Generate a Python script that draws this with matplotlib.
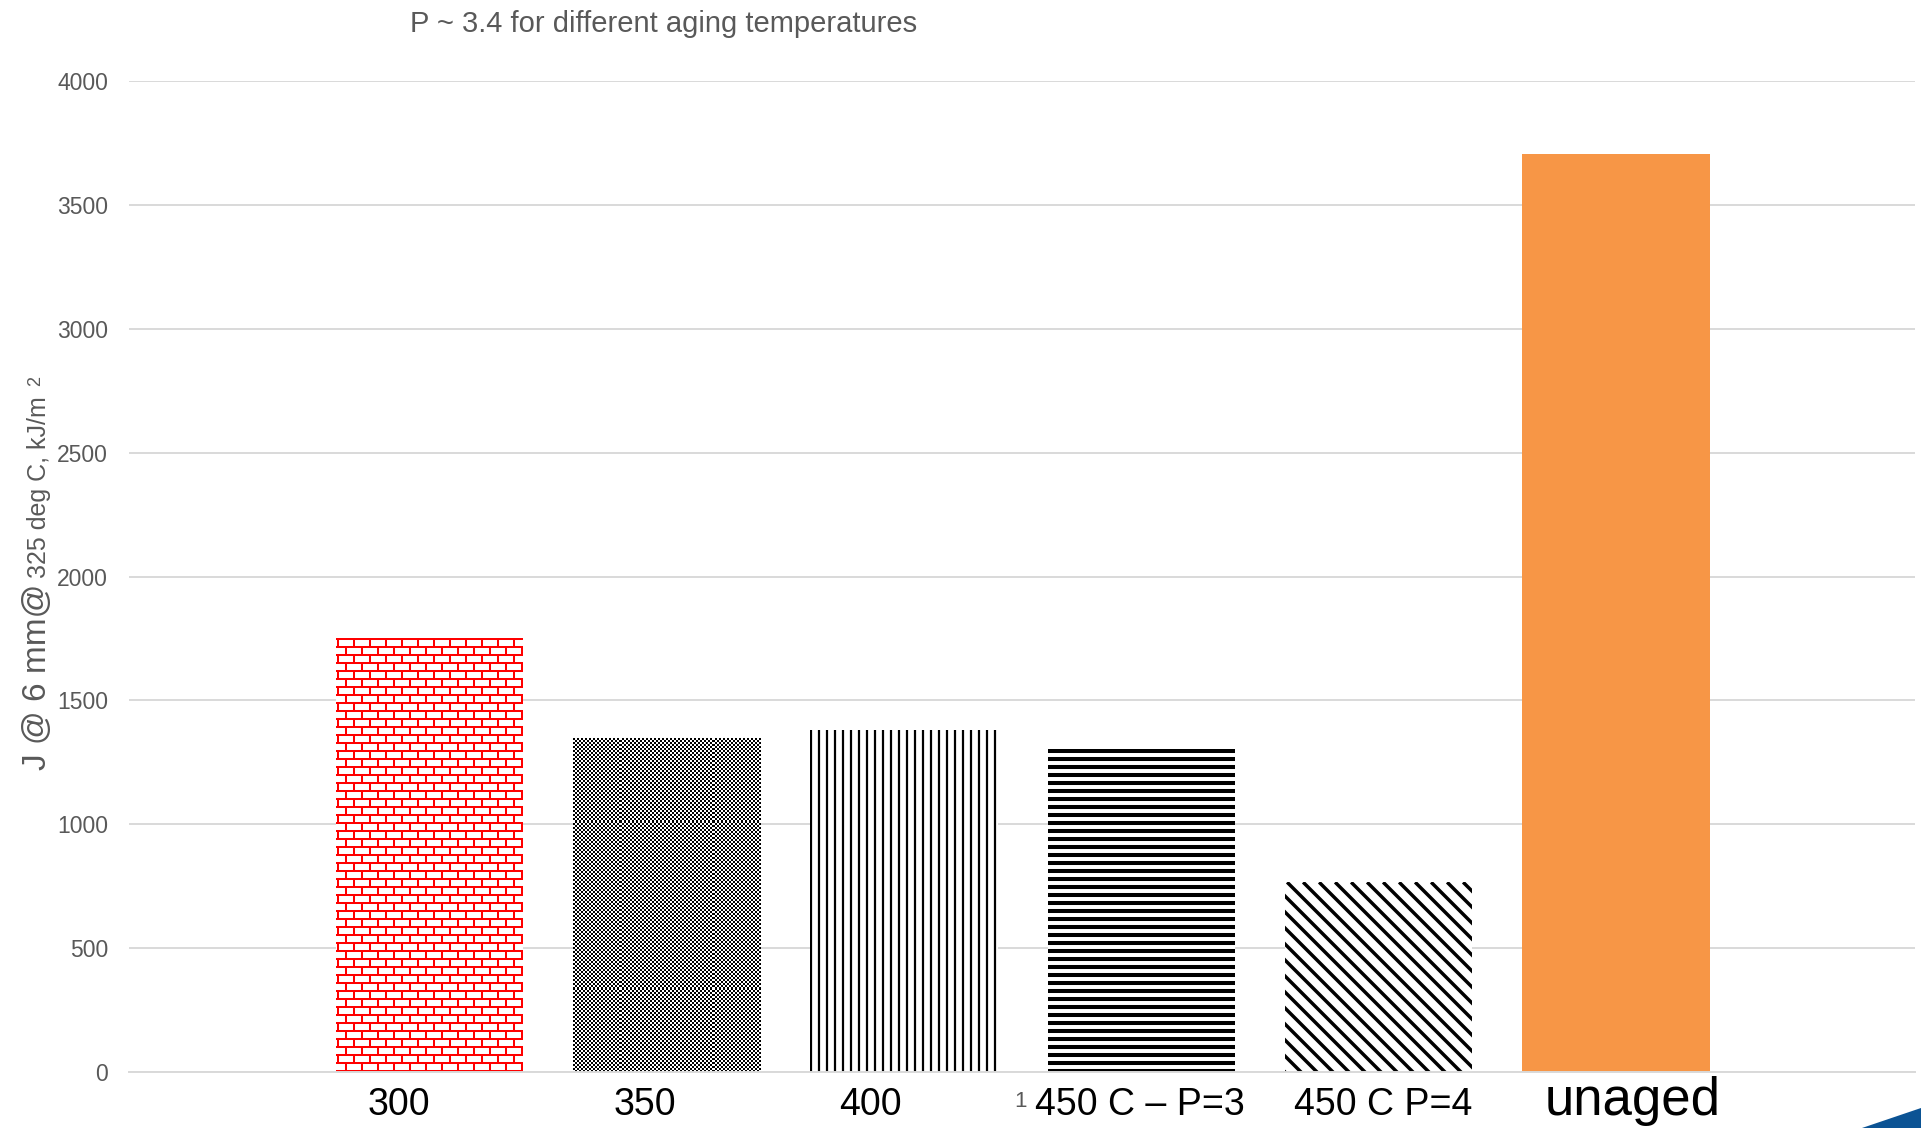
import numpy as np
import matplotlib as mpl
import matplotlib.pyplot as plt
from matplotlib.collections import LineCollection
from matplotlib.patches import Polygon

mpl.rcParams["font.family"] = ["Liberation Sans", "DejaVu Sans"]

# data
categories = ["300", "350", "400", "450 C – P=3", "450 C P=4", "unaged"]
j_values = [1750, 1345, 1380, 1302, 766, 3705]
y_ticks = [0, 500, 1000, 1500, 2000, 2500, 3000, 3500, 4000]

TEXT_GRAY = "#595959"
GRID_GRAY = "#d9d9d9"
ORANGE = "#f79646"

W, H = 1921, 1128
fig = plt.figure(figsize=(W / 100, H / 100), dpi=100)
ax = fig.add_axes([129 / W, 56 / H, (1915 - 129) / W, (1072 - 81) / H])

x = np.arange(1, len(categories) + 1)
faces = ["white"] * 5 + [ORANGE]
bars = ax.bar(x, j_values, width=0.79, color=faces, linewidth=0, zorder=2)

ax.set_xlim(-0.266, 7.26)
ax.set_ylim(0, 4000)
ax.set_yticks(y_ticks)
ax.yaxis.grid(True, color=GRID_GRAY, linewidth=1.4)
ax.set_axisbelow(True)
for s in ax.spines.values():
    s.set_visible(False)
ax.spines["bottom"].set_visible(True)
ax.spines["bottom"].set_color(GRID_GRAY)
ax.spines["bottom"].set_linewidth(1.4)
ax.spines["bottom"].set_zorder(5)

ax.tick_params(axis="y", length=0, pad=15, labelsize=16.5, labelcolor=TEXT_GRAY)
ax.set_xticks(x)
ax.set_xticklabels([])
ax.tick_params(axis="x", length=0)

# category labels sit on a shared baseline, slightly off the bar centres
label_dx = [-22, -16, -24, -1, 3, 12]   # points
label_size = [27, 27, 27, 27, 27, 38]
for xi, name, dx, fs in zip(x, categories, label_dx, label_size):
    ax.annotate(name, xy=(xi, 0), xycoords=("data", "axes fraction"),
                xytext=(dx, -31), textcoords="offset points",
                ha="center", va="baseline", fontsize=fs, color="black")

# fill patterns, built in pixel space and clipped to each bar
to_data = ax.transData.inverted()


def add_lines(bar, segs_px, color, lw):
    segs = [to_data.transform(np.array(s)) for s in segs_px]
    lc = LineCollection(segs, colors=color, linewidths=lw, capstyle="butt", zorder=3)
    ax.add_collection(lc)
    lc.set_clip_path(bar)


# 300: red bricks
bb = bars[0].get_window_extent()
segs = []
y, i = bb.y1 - 1, 0
while y > bb.y0:
    segs.append([(bb.x0, y), (bb.x1, y)])
    xv = bb.x0 + (2 if i % 2 == 0 else 10)
    while xv < bb.x1:
        segs.append([(xv, y), (xv, max(y - 8, bb.y0))])
        xv += 16
    y -= 8
    i += 1
add_lines(bars[0], segs, "#ff0000", 1.45)

# 400: thin vertical lines
bb = bars[2].get_window_extent()
segs = [[(xv, bb.y0), (xv, bb.y1)] for xv in np.arange(bb.x0 + 1, bb.x1, 8)]
add_lines(bars[2], segs, "black", 1.6)

# 450 P=3: thick horizontal stripes
bb = bars[3].get_window_extent()
segs = [[(bb.x0, yv), (bb.x1, yv)] for yv in np.arange(bb.y1 - 2, bb.y0, -8)]
add_lines(bars[3], segs, "black", 2.9)

# 450 P=4: downward diagonals
bb = bars[4].get_window_extent()
L = bb.width + bb.height
segs = [[(bb.x0 + c, bb.y1), (bb.x0 + c + L, bb.y1 - L)]
        for c in np.arange(-bb.height - 16, bb.width + 16, 16)]
add_lines(bars[4], segs, "black", 2.5)

# 350: fine checkerboard
bb = bars[1].get_window_extent()
nr, nc = int(bb.height / 2), int(bb.width / 2)
checker = (np.add.outer(np.arange(nr), np.arange(nc)) % 2).astype(float)
b = bars[1]
ax.imshow(checker, cmap="gray", interpolation="nearest", aspect="auto", zorder=3,
          extent=(b.get_x(), b.get_x() + b.get_width(), 0, b.get_height()))
ax.set_xlim(-0.266, 7.26)
ax.set_ylim(0, 4000)

# title, axis label and small marks
fig.text(664 / W, 1 - 32 / H, "P ~ 3.4 for different aging temperatures",
         ha="center", va="baseline", fontsize=21, color=TEXT_GRAY)

renderer = fig.canvas.get_renderer()
t1 = fig.text(46 / W, 1 - 770 / H, "J @ 6 mm@", rotation=90, rotation_mode="anchor",
              ha="left", va="baseline", fontsize=24, color=TEXT_GRAY)
bb1 = t1.get_window_extent(renderer)
t2 = fig.text(46 / W, (bb1.y1 + 6) / H, "325 deg C, kJ/m", rotation=90,
              rotation_mode="anchor", ha="left", va="baseline", fontsize=18, color=TEXT_GRAY)
bb2 = t2.get_window_extent(renderer)
fig.text(40 / W, (bb2.y1 + 10) / H, "2", rotation=90, rotation_mode="anchor",
         ha="left", va="baseline", fontsize=13, color=TEXT_GRAY)

fig.text(1021 / W, 1 - 1107 / H, "1", ha="center", va="baseline",
         fontsize=16, color=TEXT_GRAY)

fig.patches.append(Polygon([(1862 / W, 0), (1, 20 / H), (1, 0)], closed=True,
                           transform=fig.transFigure, facecolor="#0b5394",
                           edgecolor="none"))

fig.savefig("out.png", dpi=100)
